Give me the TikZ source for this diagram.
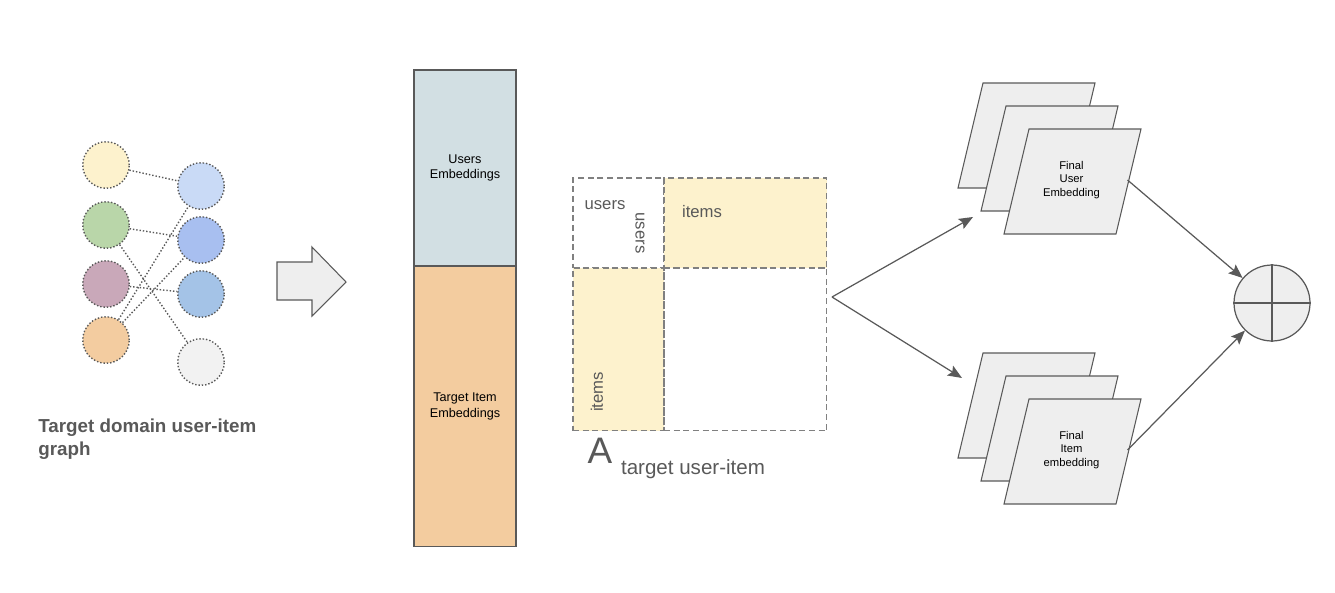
\documentclass[tikz,border=0pt]{standalone}
\usepackage{fontspec}
\setmainfont{Liberation Sans}
\usetikzlibrary{arrows.meta,calc,positioning}

\definecolor{linegray}{HTML}{595959}
\definecolor{sheetgray}{HTML}{EEEEEE}
\definecolor{paleyellow}{HTML}{FDF2CD}
\definecolor{softgreen}{HTML}{B9D6A9}
\definecolor{softmauve}{HTML}{C9A8B9}
\definecolor{softorange}{HTML}{F3CCA0}
\definecolor{paleblue}{HTML}{C9DAF6}
\definecolor{midblue}{HTML}{A8BFF0}
\definecolor{skyblue}{HTML}{A4C3E7}
\definecolor{palegray}{HTML}{F2F2F2}
\definecolor{embblue}{HTML}{D2DFE3}
\definecolor{emborange}{HTML}{F3CC9F}

\begin{document}
\begin{tikzpicture}[x=0.02cm,y=-0.02cm,
  vertex/.style={circle,draw=linegray,dash pattern=on 0.8pt off 1.1pt,line width=0.8pt,minimum size=0.93cm,inner sep=0pt},
  link/.style={draw=linegray,dash pattern=on 0.8pt off 1.1pt,line width=0.8pt},
  emb/.style={rectangle,draw=linegray,line width=0.6pt,minimum width=2.04cm,align=center,
    font=\fontsize{7.2}{9}\selectfont,outer sep=0pt,inner sep=0pt,node distance=0pt},
  cell/.style={rectangle,draw=gray,dash pattern=on 3.5pt off 2pt,line width=0.6pt,outer sep=0pt,inner sep=0pt,node distance=0pt},
  celltext/.style={text=linegray,font=\fontsize{9.5}{11}\selectfont,inner sep=0pt},
  sheet/.style={draw=linegray,fill=sheetgray,line width=0.6pt},
  sheettext/.style={align=center,font=\fontsize{6.4}{7.9}\selectfont,inner sep=0pt},
  conn/.style={draw=linegray,line width=0.7pt,-{Stealth[length=8pt,width=6.5pt,inset=1.5pt]}}]

  \useasboundingbox (0,0) rectangle (1335,592);

  % user-item graph
  \node[vertex,fill=paleyellow] (l1) at (106,165) {};
  \node[vertex,fill=softgreen] (l2) at (106,225) {};
  \node[vertex,fill=softmauve] (l3) at (106,284) {};
  \node[vertex,fill=softorange] (l4) at (106,340) {};
  \node[vertex,fill=paleblue] (r1) at (201,186) {};
  \node[vertex,fill=midblue] (r2) at (201,240) {};
  \node[vertex,fill=skyblue] (r3) at (201,294) {};
  \node[vertex,fill=palegray] (r4) at (201,362) {};

  \draw[link] (l1) -- (r1);
  \draw[link] (l2) -- (r2);
  \draw[link] (l2) -- (r4);
  \draw[link] (l3) -- (r3);
  \draw[link] (l4) -- (r1);
  \draw[link] (l4) -- (r2);

  \node[anchor=north west,align=left,inner sep=0pt,text=linegray,
    font=\bfseries\fontsize{10.7}{13}\selectfont] (glabel) at (38,419)
    {Target domain user-item\\graph};

  % big arrow
  \draw[sheet] (277,262) -- (312,262) -- (312,247) -- (346,282)
    -- (312,316) -- (312,300) -- (277,300) -- cycle;

  % embedding column
  \node[emb,fill=embblue,minimum height=3.92cm] (uemb) at (465,168) {Users\\Embeddings};
  \node[emb,fill=emborange,minimum height=5.62cm,below=of uemb] (iemb) {Target Item\\Embeddings};

  % adjacency matrix
  \node[cell,minimum width=1.82cm,minimum height=1.8cm,anchor=north west] (uu) at (573,178) {};
  \node[cell,fill=paleyellow,minimum width=3.26cm,minimum height=1.8cm,right=of uu] (ui) {};
  \node[cell,fill=paleyellow,minimum width=1.82cm,minimum height=3.26cm,below=of uu] (iu) {};
  \node[cell,minimum width=3.26cm,minimum height=3.26cm,below=of ui] (ii) {};

  \node[celltext] (tusers) at (605,205) {users};
  \node[celltext,rotate=-90] (lusers) at (640,233) {users};
  \node[celltext] (titems) at (702,212) {items};
  \node[celltext,rotate=90] (litems) at (597,392) {items};

  \node[text=linegray,inner sep=0pt,font=\fontsize{21}{24}\selectfont] (amat) at (600,451) {A};
  \node[text=linegray,inner sep=0pt,font=\fontsize{11.7}{14}\selectfont] (aname) at (693,469) {target user-item};

  \coordinate (mout) at (832,297);
  \coordinate (toup) at (973,217);
  \coordinate (tolow) at (962,378);
  \draw[conn] (mout) -- (toup);
  \draw[conn] (mout) -- (tolow);

  % final embeddings
  \foreach \d in {0,23,46}
    \draw[sheet] (983+\d,83+\d) -- ++(112,0) -- ++(-25,105) -- ++(-112,0) -- cycle;
  \node[sheettext] (fuser) at (1071.5,180) {Final\\User\\Embedding};
  \coordinate (fuout) at (1127.5,180);

  \foreach \d in {0,23,46}
    \draw[sheet] (983+\d,353+\d) -- ++(112,0) -- ++(-25,105) -- ++(-112,0) -- cycle;
  \node[sheettext] (fitem) at (1071.5,450) {Final\\Item\\embedding};
  \coordinate (fiout) at (1127.5,450);

  % combine
  \node[circle,draw=linegray,fill=sheetgray,line width=0.7pt,minimum size=1.52cm] (sum) at (1272,303) {};
  \draw[linegray,line width=0.7pt] (sum.north) -- (sum.south) (sum.west) -- (sum.east);

  \draw[conn] (fuout) -- (sum);
  \draw[conn] (fiout) -- (sum);
\end{tikzpicture}
\end{document}
